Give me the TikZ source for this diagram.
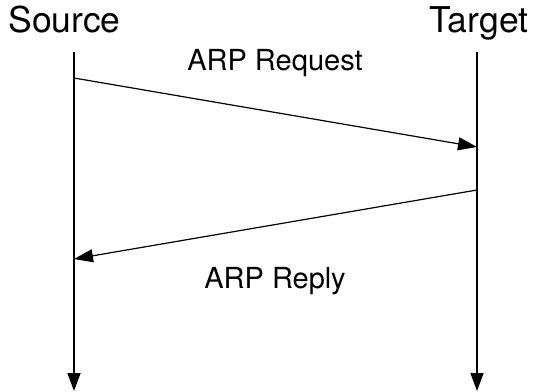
\documentclass[tikz,border=0pt]{standalone}
\usepackage{fontspec}
\setmainfont{TeX Gyre Heros}
\usetikzlibrary{arrows.meta}
\begin{document}
\begin{tikzpicture}[x=1pt,y=-1pt,
  lifeline/.style={line width=1.4pt,-{Triangle[length=18pt,width=13pt]}},
  message/.style={line width=1.2pt,-{Triangle[length=19pt,width=13pt]}},
  actor/.style={inner sep=0pt,anchor=base,font=\fontsize{35.5}{41}\selectfont},
  msglabel/.style={inner sep=0pt,anchor=base,font=\fontsize{29}{34}\selectfont}]
  \useasboundingbox (0,0) rectangle (534,391);
  % actors
  \node[actor] (src) at (64.5,32) {Source};
  \node[actor] (tgt) at (479,32) {Target};
  % lifelines
  \coordinate (srcTop) at (74,52);
  \coordinate (srcBot) at (74,391);
  \coordinate (tgtTop) at (477,52);
  \coordinate (tgtBot) at (477,391);
  \draw[lifeline] (srcTop) -- (srcBot);
  \draw[lifeline] (tgtTop) -- (tgtBot);
  % message end points
  \coordinate (reqFrom) at (74,78);
  \coordinate (reqTo) at (477,147);
  \coordinate (repFrom) at (477,190);
  \coordinate (repTo) at (74,259);
  \draw[message] (reqFrom) -- (reqTo);
  \draw[message] (repFrom) -- (repTo);
  % message labels
  \node[msglabel] (req) at (275,70) {ARP Request};
  \node[msglabel] (rep) at (275,288) {ARP Reply};
\end{tikzpicture}
\end{document}
